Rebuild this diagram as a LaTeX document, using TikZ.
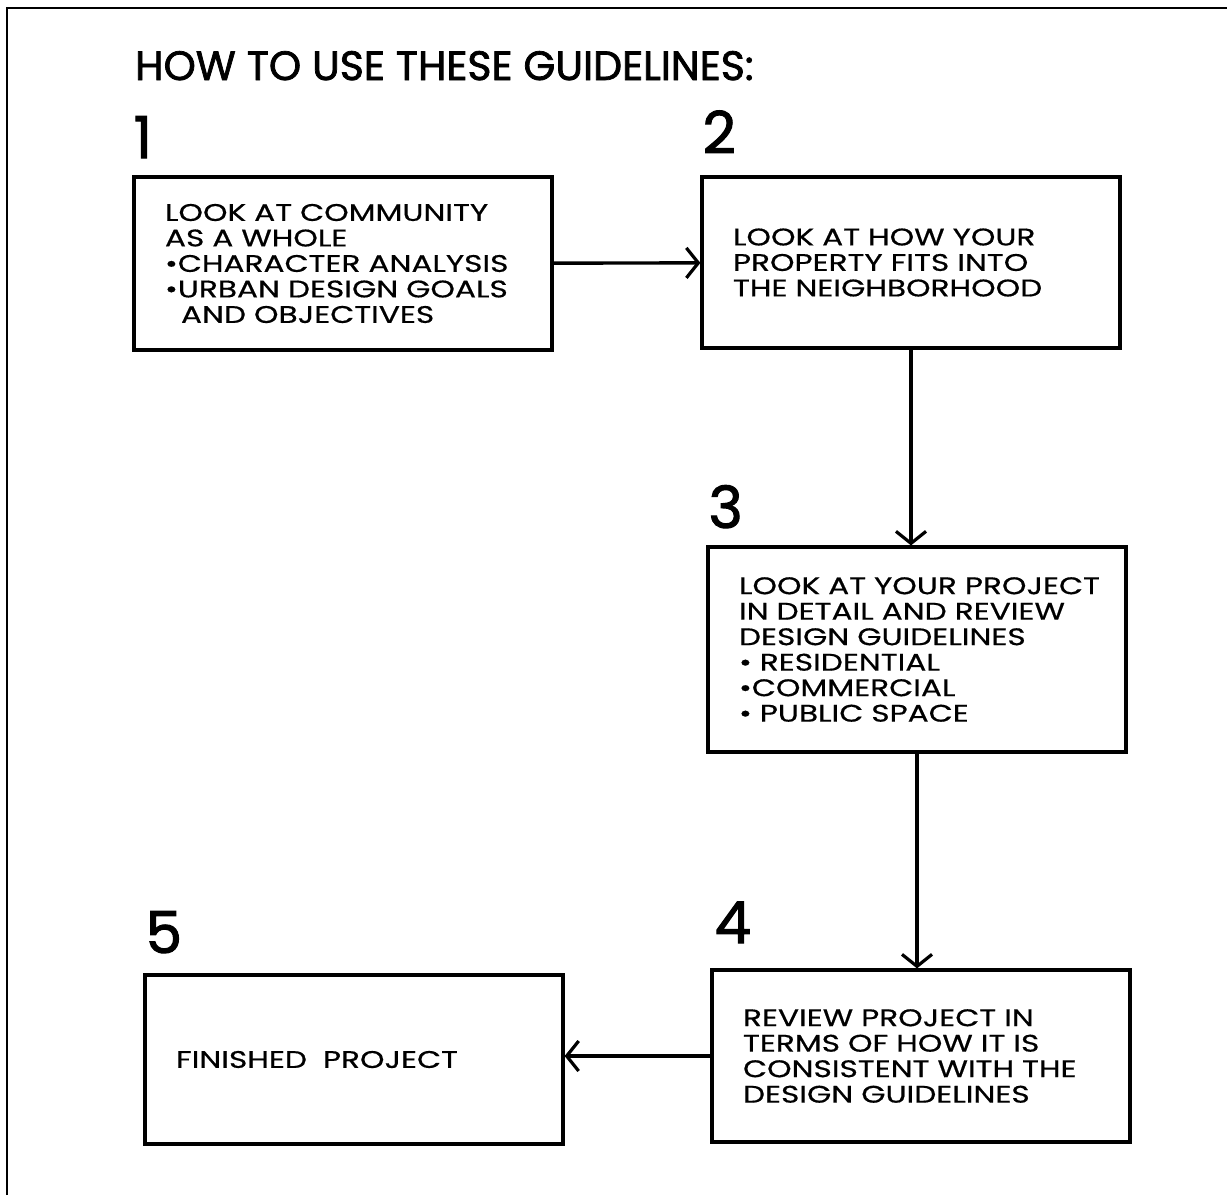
\documentclass[tikz,border=0pt]{standalone}
\usepackage{fontspec}
\setmainfont{Poppins}
\newfontfamily\handfont[FakeStretch=1.3, FakeBold=0.6, WordSpace=1.3]{Poppins}
\newfontfamily\titlefont[FakeBold=1.8]{Poppins}
\usetikzlibrary{positioning,arrows.meta}

\begin{document}
\begin{tikzpicture}[
    x=1pt, y=-1pt,
    stepbox/.style = {draw, line width=3.2pt, text width=356pt, inner xsep=31pt,
      inner ysep=0pt, align=left, font=\handfont\fontsize{24}{25.5}\selectfont},
    stepnum/.style = {inner sep=0pt, font=\titlefont\fontsize{58}{58}\selectfont},
    flow/.style    = {line width=3.4pt, -{Straight Barb[length=12pt,width=30pt,line width=3.2pt]}}
  ]
  \useasboundingbox (0,0) rectangle (1227,1195);
  % frame
  \draw[line width=2.4pt] (7,1195) -- (7,8) -- (1227,8);
  \node[anchor=base west, inner sep=0pt, font=\titlefont\fontsize{41}{41}\selectfont] (title)
    at (135,80) {HOW TO USE THESE GUIDELINES:};

  % the five steps
  \node[stepbox, minimum height=173pt] (look) at (343,263.5)
    {LOOK AT COMMUNITY\\AS A WHOLE\\\textbullet CHARACTER ANALYSIS\\
     \textbullet URBAN DESIGN GOALS\\\hspace*{16pt}AND OBJECTIVES};
  \node[stepbox, minimum height=171pt] (fit) at (911,262.5)
    {LOOK AT HOW YOUR\\PROPERTY FITS INTO\\THE NEIGHBORHOOD};
  \node[stepbox, minimum height=205pt] (detail) at (917,649.5)
    {\mbox{LOOK AT YOUR PROJECT}\\IN DETAIL AND REVIEW\\DESIGN GUIDELINES\\
     \textbullet\ RESIDENTIAL\\\textbullet COMMERCIAL\\\textbullet\ PUBLIC SPACE};
  \node[stepbox, minimum height=172pt] (review) at (921,1056)
    {REVIEW PROJECT IN\\TERMS OF HOW IT IS\\CONSISTENT WITH THE\\DESIGN GUIDELINES};
  \node[stepbox, minimum height=169pt] (finished) at (354,1059.5)
    {FINISHED\ \ PROJECT};

  % numbers
  \node[stepnum, above right=17pt and 1pt of look.north west] (n1) {1};
  \node[stepnum, above right=22pt and 2pt of fit.north west] (n2) {2};
  \node[stepnum, above right=17pt and 2pt of detail.north west] (n3) {3};
  \node[stepnum, above right=25pt and 4pt of review.north west] (n4) {4};
  \node[stepnum, above right=20pt and 2pt of finished.north west] (n5) {5};

  \draw[flow] (look) -- (fit);
  \draw[flow] (fit.south) -- (fit.south |- detail.north);
  \draw[flow] (detail.south) -- (detail.south |- review.north);
  \draw[flow] (review.west) -- (review.west -| finished.east);
\end{tikzpicture}
\end{document}
